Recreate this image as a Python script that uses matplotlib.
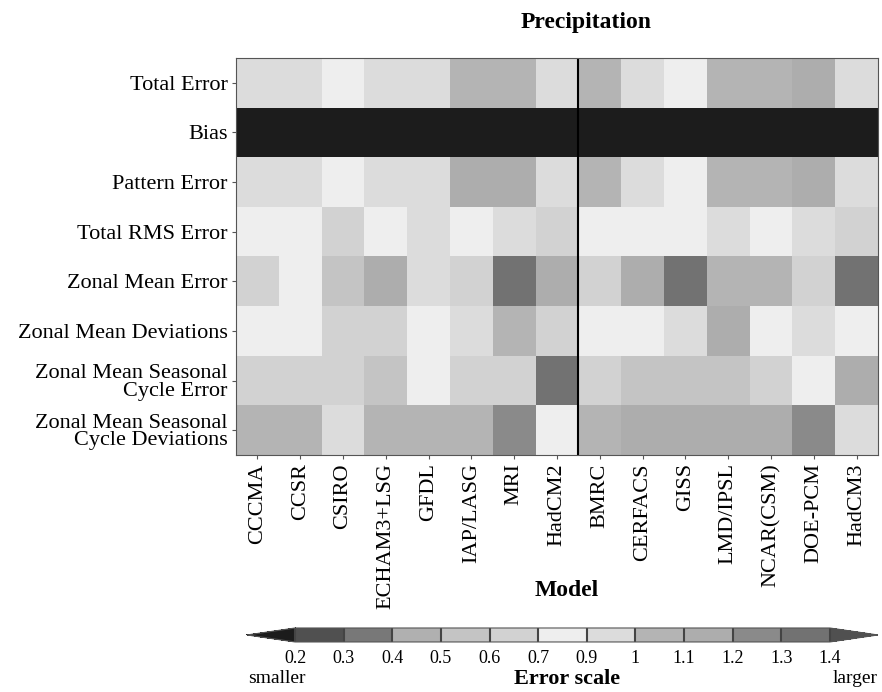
import numpy as np
import matplotlib
matplotlib.use("Agg")
import matplotlib.pyplot as plt
from matplotlib.colors import ListedColormap, BoundaryNorm

plt.rcParams["font.family"] = ["Liberation Serif", "DejaVu Serif"]

models = ["CCCMA", "CCSR", "CSIRO", "ECHAM3+LSG", "GFDL", "IAP/LASG", "MRI",
          "HadCM2", "BMRC", "CERFACS", "GISS", "LMD/IPSL", "NCAR(CSM)",
          "DOE-PCM", "HadCM3"]

metrics = ["Total Error", "Bias", "Pattern Error", "Total RMS Error",
           "Zonal Mean Error", "Zonal Mean Deviations",
           "Zonal Mean Seasonal\nCycle Error",
           "Zonal Mean Seasonal\nCycle Deviations"]

# relative error per metric (rows) and model (columns)
total_error = [0.95, 0.95, 0.8, 0.95, 0.95, 1.05, 1.05, 0.95,
               1.05, 0.95, 0.8, 1.05, 1.05, 1.15, 0.95]
bias = [0.1] * 15
pattern_error = [0.95, 0.95, 0.8, 0.95, 0.95, 1.15, 1.15, 0.95,
                 1.05, 0.95, 0.8, 1.05, 1.05, 1.15, 0.95]
total_rms = [0.8, 0.8, 0.65, 0.8, 0.95, 0.8, 0.95, 0.65,
             0.8, 0.8, 0.8, 0.95, 0.8, 0.95, 0.65]
zonal_mean_error = [0.65, 0.8, 0.55, 1.15, 0.95, 0.65, 1.35, 1.15,
                    0.65, 1.15, 1.35, 1.05, 1.05, 0.65, 1.35]
zonal_mean_dev = [0.8, 0.8, 0.65, 0.65, 0.8, 0.95, 1.05, 0.65,
                  0.8, 0.8, 0.95, 1.15, 0.8, 0.95, 0.8]
seasonal_error = [0.65, 0.65, 0.65, 0.55, 0.8, 0.65, 0.65, 1.35,
                  0.65, 0.55, 0.55, 0.55, 0.65, 0.8, 1.15]
seasonal_dev = [1.05, 1.05, 0.95, 1.05, 1.05, 1.05, 1.25, 0.8,
                1.05, 1.15, 1.15, 1.15, 1.15, 1.25, 0.95]

levels = [0.2, 0.3, 0.4, 0.5, 0.6, 0.7, 0.9, 1.0, 1.1, 1.2, 1.3, 1.4]
level_labels = ["0.2", "0.3", "0.4", "0.5", "0.6", "0.7", "0.9", "1",
                "1.1", "1.2", "1.3", "1.4"]

data = np.array([total_error, bias, pattern_error, total_rms,
                 zonal_mean_error, zonal_mean_dev, seasonal_error,
                 seasonal_dev])

grays = ["#505050", "#787878", "#b0b0b0", "#c4c4c4", "#d2d2d2", "#eeeeee",
         "#dcdcdc", "#b4b4b4", "#adadad", "#8a8a8a", "#727272"]
cmap = ListedColormap(grays)
cmap.set_under("#1c1c1c")
cmap.set_over("#505050")
norm = BoundaryNorm(levels, cmap.N)

fig = plt.figure(figsize=(8.82, 6.92), dpi=100)
ax = fig.add_axes([0.2676, 0.3425, 0.7279, 0.5737])
mesh = ax.pcolormesh(np.arange(len(models) + 1), np.arange(len(metrics) + 1),
                     data, cmap=cmap, norm=norm)
ax.set_ylim(len(metrics), 0)
ax.axvline(8, color="black", lw=1.5)

ax.set_xticks(np.arange(len(models)) + 0.5)
ax.set_xticklabels(models, rotation=90, fontsize=16)
ax.set_yticks(np.arange(len(metrics)) + 0.5)
ax.set_yticklabels(metrics, fontsize=16, linespacing=0.9)
ax.tick_params(length=3, color="#555555", pad=3)
for s in ax.spines.values():
    s.set_color("#555555")

fig.text(0.664, 0.968, "Precipitation", ha="center", va="center",
         fontsize=17, fontweight="bold")
fig.text(0.643, 0.147, "Model", ha="center", va="center",
         fontsize=17, fontweight="bold")

# colorbar axes include the two triangular extensions
cax = fig.add_axes([0.28, 0.0723, 0.7154, 0.0202])
cb = fig.colorbar(mesh, cax=cax, orientation="horizontal", extend="both",
                  extendfrac=0.09, drawedges=True, ticks=levels)
cb.ax.set_xticklabels(level_labels, fontsize=13)
cb.ax.tick_params(length=0, pad=6)
cb.outline.set_edgecolor("#555555")
cb.dividers.set_color("#444444")
cb.dividers.set_linewidth(1.5)

fig.text(0.643, 0.019, "Error scale", ha="center", va="center",
         fontsize=16, fontweight="bold")
fig.text(0.281, 0.019, "smaller", ha="left", va="center", fontsize=14)
fig.text(0.995, 0.019, "larger", ha="right", va="center", fontsize=14)

fig.savefig("out.png", dpi=100)
